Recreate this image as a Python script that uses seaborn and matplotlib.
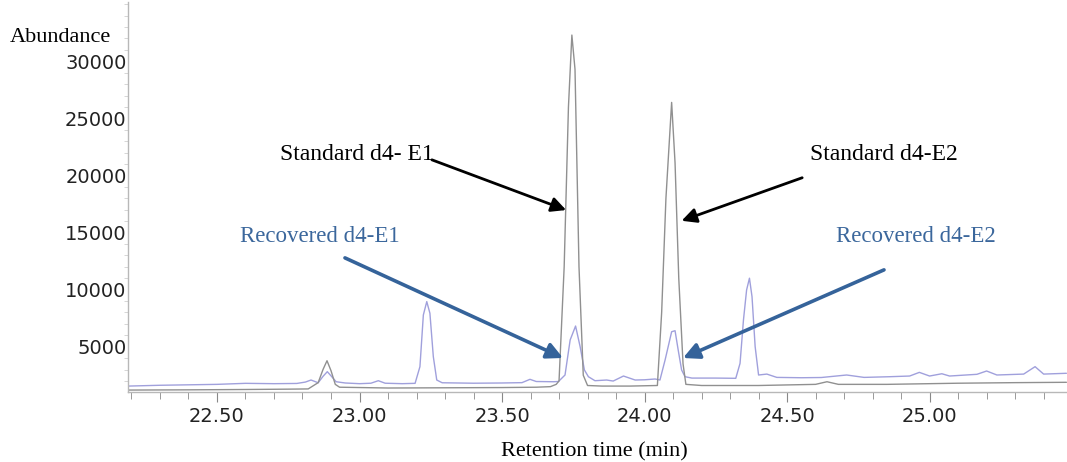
import numpy as np
import matplotlib
matplotlib.use("Agg")
import matplotlib.pyplot as plt
from matplotlib.ticker import MultipleLocator, FormatStrFormatter
import seaborn as sns

# standard d4 trace (grey)
std_time = [22.19, 22.40, 22.60, 22.75, 22.82, 22.855, 22.872, 22.886, 22.90, 22.915,
            22.93, 23.10, 23.30, 23.50, 23.62, 23.67, 23.69, 23.70, 23.718, 23.733,
            23.745, 23.756, 23.770, 23.785, 23.80, 23.85, 23.95, 24.045, 24.06, 24.075,
            24.095, 24.107, 24.12, 24.135, 24.145, 24.20, 24.40, 24.60, 24.64, 24.68,
            24.85, 25.10, 25.30, 25.48]
std_abund = [1200, 1220, 1250, 1280, 1300, 1850, 3000, 3770, 2900, 1700,
             1450, 1380, 1400, 1420, 1450, 1500, 1700, 2000, 12000, 26000,
             32300, 29300, 12000, 2500, 1600, 1550, 1550, 1600, 8000, 18000,
             26400, 21100, 11000, 3500, 1700, 1600, 1600, 1700, 1930, 1700,
             1700, 1800, 1850, 1880]

# recovered d4 trace (blue)
rec_time = [22.19, 22.30, 22.50, 22.60, 22.70, 22.78, 22.81, 22.83, 22.855, 22.872,
            22.887, 22.90, 22.918, 22.95, 23.00, 23.04, 23.066, 23.09, 23.15, 23.195,
            23.212, 23.224, 23.236, 23.247, 23.259, 23.271, 23.29, 23.40, 23.50, 23.57,
            23.598, 23.62, 23.68, 23.698, 23.721, 23.739, 23.758, 23.774, 23.789, 23.803,
            23.826, 23.867, 23.89, 23.926, 23.967, 24.00, 24.037, 24.054, 24.072, 24.095,
            24.107, 24.118, 24.130, 24.142, 24.166, 24.25, 24.32, 24.335, 24.347, 24.358,
            24.368, 24.377, 24.388, 24.400, 24.429, 24.464, 24.55, 24.62, 24.709, 24.77,
            24.86, 24.93, 24.964, 25.00, 25.043, 25.07, 25.166, 25.20, 25.236, 25.33,
            25.37, 25.40, 25.48]
rec_abund = [1550, 1620, 1700, 1790, 1760, 1780, 1900, 2080, 1840, 2400,
             2810, 2450, 1930, 1820, 1760, 1800, 2020, 1800, 1760, 1790,
             3250, 7780, 8950, 7930, 4120, 2080, 1840, 1800, 1820, 1850,
             2140, 1950, 1930, 1950, 2520, 5590, 6810, 5000, 2960, 2370,
             2020, 2080, 1990, 2430, 2080, 2100, 2170, 2080, 3830, 6310,
             6400, 4710, 2960, 2370, 2250, 2250, 2230, 3540, 7340, 9970,
             11000, 9380, 5000, 2520, 2600, 2310, 2280, 2300, 2520, 2310,
             2370, 2430, 2750, 2430, 2630, 2430, 2580, 2870, 2520, 2600,
             3250, 2600, 2670]

# labels: (text, text x, text y, arrow tail, arrow tip)
labels_std = [("Standard d4- E1", 22.721, 21800, (23.254, 21370), (23.725, 16970)),
              ("Standard d4-E2", 24.58, 21800, (24.553, 19800), (24.13, 16030))]
labels_rec = [("Recovered d4-E1", 22.58, 14620, (22.949, 12780), (23.714, 4010)),
              ("Recovered d4-E2", 24.672, 14620, (24.84, 11730), (24.135, 4010))]

sns.set_style("white")
plt.rcParams["font.family"] = ["DejaVu Sans"]

fig = plt.figure(figsize=(10.67, 4.62), dpi=100)
ax = fig.add_axes([0.12, 0.1515, 0.88, 0.845])

sns.lineplot(x=rec_time, y=rec_abund, ax=ax, color="#a0a0dc", lw=1.0)
sns.lineplot(x=std_time, y=std_abund, ax=ax, color="#909090", lw=1.0)

ax.set_xlim(22.188, 25.482)
ax.set_ylim(1030, 35230)

for s in ["top", "right"]:
    ax.spines[s].set_visible(False)
for s in ["left", "bottom"]:
    ax.spines[s].set_color("#b8b8b8")
    ax.spines[s].set_linewidth(1.0)

ax.xaxis.set_major_locator(MultipleLocator(0.5))
ax.xaxis.set_minor_locator(MultipleLocator(0.1))
ax.xaxis.set_major_formatter(FormatStrFormatter("%.2f"))
ax.yaxis.set_major_locator(MultipleLocator(5000))
ax.yaxis.set_minor_locator(MultipleLocator(1000))
ax.tick_params(axis="x", which="major", length=7, width=0.8, color="#888888",
               labelsize=14, labelcolor="#222222", pad=4, bottom=True)
ax.tick_params(axis="x", which="minor", length=5, width=0.7, color="#999999", bottom=True)
ax.tick_params(axis="y", which="major", length=0, labelsize=14,
               labelcolor="#222222", pad=1, left=True)
ax.tick_params(axis="y", which="minor", length=3, width=0.6, color="#d0d0d0", left=True)
ax.set_yticks([5000, 10000, 15000, 20000, 25000, 30000])

fig.text(0.009, 0.919, "Abundance", family="Liberation Serif", fontsize=16,
         color="black", va="center", ha="left")
fig.text(0.557, 0.021, "Retention time (min)", family="Liberation Serif",
         fontsize=16, color="black", va="center", ha="center")

for txt, tx, ty, tail, tip in labels_std:
    ax.text(tx, ty, txt, family="Liberation Serif", fontsize=17, color="black",
            va="center", ha="left")
    ax.annotate("", xy=tip, xytext=tail,
                arrowprops=dict(arrowstyle="-|>", color="black", lw=2.0,
                                mutation_scale=22, shrinkA=0, shrinkB=0))

for txt, tx, ty, tail, tip in labels_rec:
    ax.text(tx, ty, txt, family="Liberation Serif", fontsize=16.5, color="#3b679c",
            va="center", ha="left")
    ax.annotate("", xy=tip, xytext=tail,
                arrowprops=dict(arrowstyle="-|>", color="#35639a", lw=2.6,
                                mutation_scale=24, shrinkA=0, shrinkB=0))

ax.set_xlabel("")
ax.set_ylabel("")
fig.savefig("out.png", dpi=100)
